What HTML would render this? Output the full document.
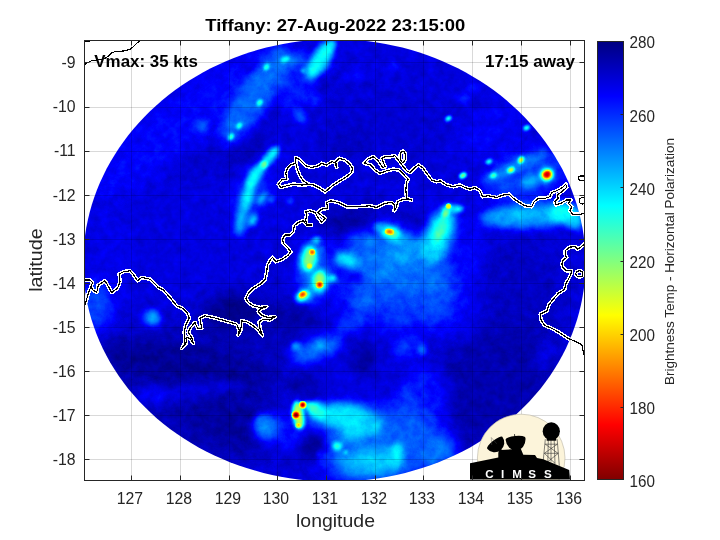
<!DOCTYPE html>
<html><head><meta charset="utf-8"><title>Tiffany</title><style>html,body{margin:0;padding:0;background:#fff}svg{display:block}text{font-family:"Liberation Sans",sans-serif;opacity:.999}</style></head><body>
<svg width="720" height="540" viewBox="0 0 720 540">
<defs>
<clipPath id="ax"><rect x="84.5" y="40.5" width="500.0" height="440.0"/></clipPath>
<clipPath id="disc"><polygon points="334.3,39.2 342.9,39.3 351.5,39.7 360.1,40.4 368.7,41.3 377.2,42.5 385.6,44.0 394.0,45.7 402.4,47.6 410.6,49.8 418.8,52.3 426.8,55.0 434.8,58.0 442.6,61.2 450.3,64.7 457.9,68.3 465.4,72.3 472.6,76.4 479.8,80.8 486.7,85.3 493.5,90.1 500.1,95.1 506.5,100.3 512.6,105.7 518.6,111.3 524.4,117.0 529.9,122.9 535.2,129.0 540.3,135.3 545.2,141.7 549.7,148.2 554.1,154.9 558.1,161.7 562.0,168.6 565.5,175.7 568.8,182.8 571.7,190.1 574.4,197.4 576.9,204.8 579.0,212.3 580.8,219.8 582.4,227.4 583.6,235.1 584.5,242.7 585.2,250.4 585.5,258.1 585.5,265.9 585.3,273.6 584.7,281.3 583.8,288.9 582.6,296.6 581.1,304.2 579.3,311.7 577.2,319.2 574.8,326.6 572.1,334.0 569.1,341.2 565.9,348.4 562.3,355.5 558.4,362.4 554.3,369.2 549.9,375.9 545.2,382.5 540.3,388.9 535.1,395.1 529.6,401.2 523.9,407.1 517.9,412.8 511.7,418.4 505.3,423.7 498.7,428.9 491.8,433.8 484.8,438.6 477.5,443.1 470.1,447.4 462.5,451.4 454.7,455.2 446.8,458.8 438.7,462.2 430.5,465.2 422.2,468.1 413.7,470.6 405.2,472.9 396.5,475.0 387.8,476.8 379.0,478.3 370.1,479.5 361.2,480.5 352.3,481.2 343.3,481.6 334.3,481.7 325.4,481.6 316.4,481.2 307.4,480.5 298.5,479.5 289.7,478.3 280.9,476.8 272.1,475.0 263.5,472.9 254.9,470.6 246.5,468.1 238.2,465.2 229.9,462.2 221.9,458.8 213.9,455.2 206.2,451.4 198.6,447.4 191.1,443.1 183.9,438.6 176.8,433.8 170.0,428.9 163.3,423.7 156.9,418.4 150.7,412.8 144.8,407.1 139.1,401.2 133.6,395.1 128.4,388.9 123.5,382.5 118.8,375.9 114.4,369.2 110.2,362.4 106.4,355.5 102.8,348.4 99.5,341.2 96.5,334.0 93.8,326.6 91.4,319.2 89.3,311.7 87.5,304.2 86.1,296.6 84.9,288.9 84.0,281.3 83.4,273.6 83.1,265.9 83.2,258.1 83.5,250.4 84.1,242.7 85.1,235.1 86.3,227.4 87.9,219.8 89.7,212.3 91.8,204.8 94.2,197.4 96.9,190.1 99.9,182.8 103.2,175.7 106.7,168.6 110.5,161.7 114.6,154.9 118.9,148.2 123.5,141.7 128.3,135.3 133.4,129.0 138.7,122.9 144.3,117.0 150.0,111.3 156.0,105.7 162.2,100.3 168.6,95.1 175.2,90.1 182.0,85.3 188.9,80.8 196.0,76.4 203.3,72.3 210.7,68.3 218.3,64.7 226.0,61.2 233.9,58.0 241.8,55.0 249.9,52.3 258.1,49.8 266.3,47.6 274.6,45.7 283.0,44.0 291.5,42.5 300.0,41.3 308.6,40.4 317.1,39.7 325.7,39.3"/></clipPath>
<linearGradient id="cb" x1="0" y1="0" x2="0" y2="1">
<stop offset="0" stop-color="#000080"/>
<stop offset="0.125" stop-color="#0000ff"/>
<stop offset="0.375" stop-color="#00ffff"/>
<stop offset="0.5" stop-color="#80ff80"/>
<stop offset="0.625" stop-color="#ffff00"/>
<stop offset="0.875" stop-color="#ff0000"/>
<stop offset="1" stop-color="#800000"/>
</linearGradient>
<filter id="b1" x="-50%" y="-50%" width="200%" height="200%"><feGaussianBlur stdDeviation="1"/></filter>
<filter id="b2" x="-50%" y="-50%" width="200%" height="200%"><feGaussianBlur stdDeviation="2"/></filter>
<filter id="b4" x="-50%" y="-50%" width="200%" height="200%"><feGaussianBlur stdDeviation="4"/></filter>
<filter id="b8" x="-50%" y="-50%" width="200%" height="200%"><feGaussianBlur stdDeviation="8"/></filter>
<filter id="b14" x="-50%" y="-50%" width="200%" height="200%"><feGaussianBlur stdDeviation="14"/></filter>
</defs>
<rect width="720" height="540" fill="#fff"/>
<g clip-path="url(#ax)"><g clip-path="url(#disc)">
<defs>
<filter id="f1_2" x="-80%" y="-80%" width="260%" height="260%" color-interpolation-filters="sRGB"><feGaussianBlur stdDeviation="1.2"/></filter>
<filter id="f1_3" x="-80%" y="-80%" width="260%" height="260%" color-interpolation-filters="sRGB"><feGaussianBlur stdDeviation="1.3"/></filter>
<filter id="f1_4" x="-80%" y="-80%" width="260%" height="260%" color-interpolation-filters="sRGB"><feGaussianBlur stdDeviation="1.4"/></filter>
<filter id="f1_5" x="-80%" y="-80%" width="260%" height="260%" color-interpolation-filters="sRGB"><feGaussianBlur stdDeviation="1.5"/></filter>
<filter id="f1_6" x="-80%" y="-80%" width="260%" height="260%" color-interpolation-filters="sRGB"><feGaussianBlur stdDeviation="1.6"/></filter>
<filter id="f1_8" x="-80%" y="-80%" width="260%" height="260%" color-interpolation-filters="sRGB"><feGaussianBlur stdDeviation="1.8"/></filter>
<filter id="f2" x="-80%" y="-80%" width="260%" height="260%" color-interpolation-filters="sRGB"><feGaussianBlur stdDeviation="2"/></filter>
<filter id="f2_2" x="-80%" y="-80%" width="260%" height="260%" color-interpolation-filters="sRGB"><feGaussianBlur stdDeviation="2.2"/></filter>
<filter id="f2_5" x="-80%" y="-80%" width="260%" height="260%" color-interpolation-filters="sRGB"><feGaussianBlur stdDeviation="2.5"/></filter>
<filter id="f2_8" x="-80%" y="-80%" width="260%" height="260%" color-interpolation-filters="sRGB"><feGaussianBlur stdDeviation="2.8"/></filter>
<filter id="f3" x="-80%" y="-80%" width="260%" height="260%" color-interpolation-filters="sRGB"><feGaussianBlur stdDeviation="3"/></filter>
<filter id="f3_5" x="-80%" y="-80%" width="260%" height="260%" color-interpolation-filters="sRGB"><feGaussianBlur stdDeviation="3.5"/></filter>
<filter id="f4" x="-80%" y="-80%" width="260%" height="260%" color-interpolation-filters="sRGB"><feGaussianBlur stdDeviation="4"/></filter>
<filter id="f5" x="-80%" y="-80%" width="260%" height="260%" color-interpolation-filters="sRGB"><feGaussianBlur stdDeviation="5"/></filter>
<filter id="f6" x="-80%" y="-80%" width="260%" height="260%" color-interpolation-filters="sRGB"><feGaussianBlur stdDeviation="6"/></filter>
<filter id="f7" x="-80%" y="-80%" width="260%" height="260%" color-interpolation-filters="sRGB"><feGaussianBlur stdDeviation="7"/></filter>
<filter id="f8" x="-80%" y="-80%" width="260%" height="260%" color-interpolation-filters="sRGB"><feGaussianBlur stdDeviation="8"/></filter>
<filter id="f10" x="-80%" y="-80%" width="260%" height="260%" color-interpolation-filters="sRGB"><feGaussianBlur stdDeviation="10"/></filter>
<filter id="f12" x="-80%" y="-80%" width="260%" height="260%" color-interpolation-filters="sRGB"><feGaussianBlur stdDeviation="12"/></filter>
<filter id="f14" x="-80%" y="-80%" width="260%" height="260%" color-interpolation-filters="sRGB"><feGaussianBlur stdDeviation="14"/></filter>
<filter id="jet" x="0" y="0" width="100%" height="100%" color-interpolation-filters="sRGB"><feTurbulence type="fractalNoise" baseFrequency="0.11 0.11" numOctaves="3" seed="7" result="n"/><feColorMatrix in="n" type="matrix" values="1 0 0 0 0 1 0 0 0 0 1 0 0 0 0 0 0 0 0 1" result="ng"/><feComposite in="SourceGraphic" in2="ng" operator="arithmetic" k1="0" k2="1" k3="0.07" k4="-0.035"/><feComponentTransfer><feFuncR type="table" tableValues="0 0 0 0 0.5 1 1 1 0.5"/><feFuncG type="table" tableValues="0 0 0.5 1 1 1 0.5 0 0"/><feFuncB type="table" tableValues="0.5 1 1 1 0.5 0 0 0 0"/></feComponentTransfer></filter>
</defs>
<g filter="url(#jet)">
<rect x="70" y="30" width="530" height="460" fill="#181818"/>
<ellipse cx="185" cy="120" rx="125.0" ry="28.0" transform="rotate(-38 185 120)" fill="#242424" opacity="0.75" filter="url(#f12)"/>
<ellipse cx="110" cy="260" rx="22.0" ry="60.0" fill="#202020" opacity="0.5" filter="url(#f12)"/>
<ellipse cx="190" cy="395" rx="95.0" ry="60.0" transform="rotate(25 190 395)" fill="#0d0d0d" opacity="0.85" filter="url(#f14)"/>
<ellipse cx="250" cy="335" rx="60.0" ry="25.0" transform="rotate(10 250 335)" fill="#0d0d0d" opacity="0.7" filter="url(#f10)"/>
<ellipse cx="185" cy="365" rx="90.0" ry="20.0" transform="rotate(8 185 365)" fill="#050505" opacity="0.85" filter="url(#f8)"/>
<ellipse cx="235" cy="425" rx="50.0" ry="24.0" transform="rotate(20 235 425)" fill="#070707" opacity="0.8" filter="url(#f8)"/>
<ellipse cx="185" cy="392" rx="60.0" ry="8.0" transform="rotate(-8 185 392)" fill="#1d1d1d" opacity="0.75" filter="url(#f5)"/>
<ellipse cx="520" cy="290" rx="48.0" ry="52.0" fill="#101010" opacity="0.8" filter="url(#f14)"/>
<ellipse cx="385" cy="125" rx="70.0" ry="40.0" fill="#131313" opacity="0.5" filter="url(#f14)"/>
<ellipse cx="490" cy="385" rx="75.0" ry="55.0" transform="rotate(-35 490 385)" fill="#0a0a0a" opacity="0.85" filter="url(#f12)"/>
<ellipse cx="395" cy="280" rx="65.0" ry="48.0" fill="#333333" opacity="0.6" filter="url(#f14)"/>
<ellipse cx="450" cy="300" rx="30.0" ry="40.0" fill="#2a2a2a" opacity="0.5" filter="url(#f12)"/>
<ellipse cx="370" cy="445" rx="52.0" ry="38.0" fill="#464646" opacity="0.75" filter="url(#f10)"/>
<ellipse cx="425" cy="440" rx="26.0" ry="32.0" fill="#404040" opacity="0.6" filter="url(#f8)"/>
<ellipse cx="300" cy="435" rx="40.0" ry="22.0" fill="#2d2d2d" opacity="0.6" filter="url(#f10)"/>
<ellipse cx="525" cy="175" rx="42.0" ry="24.0" transform="rotate(-20 525 175)" fill="#373737" opacity="0.75" filter="url(#f8)"/>
<ellipse cx="490" cy="130" rx="40.0" ry="20.0" transform="rotate(-35 490 130)" fill="#262626" opacity="0.5" filter="url(#f10)"/>
<ellipse cx="535" cy="214" rx="48.0" ry="10.0" transform="rotate(-5 535 214)" fill="#424242" opacity="0.8" filter="url(#f6)"/>
<ellipse cx="345" cy="221" rx="26.0" ry="13.0" fill="#080808" opacity="0.85" filter="url(#f7)"/>
<ellipse cx="372" cy="205" rx="14.0" ry="8.0" fill="#0b0b0b" opacity="0.6" filter="url(#f5)"/>
<ellipse cx="290" cy="316" rx="30.0" ry="13.0" transform="rotate(10 290 316)" fill="#080808" opacity="0.85" filter="url(#f7)"/>
<ellipse cx="236" cy="307" rx="24.0" ry="14.0" fill="#0a0a0a" opacity="0.8" filter="url(#f7)"/>
<ellipse cx="304" cy="384" rx="18.0" ry="10.0" fill="#080808" opacity="0.8" filter="url(#f6)"/>
<ellipse cx="263" cy="375" rx="18.0" ry="12.0" fill="#0c0c0c" opacity="0.7" filter="url(#f6)"/>
<ellipse cx="272" cy="110" rx="55.0" ry="7.0" transform="rotate(-57 272 110)" fill="#101010" opacity="0.6" filter="url(#f5)"/>
<ellipse cx="205" cy="160" rx="30.0" ry="12.0" transform="rotate(-20 205 160)" fill="#111111" opacity="0.6" filter="url(#f7)"/>
<ellipse cx="345" cy="143" rx="25.0" ry="12.0" fill="#0e0e0e" opacity="0.6" filter="url(#f7)"/>
<ellipse cx="277" cy="280" rx="10.0" ry="16.0" fill="#131313" opacity="0.5" filter="url(#f6)"/>
<ellipse cx="255" cy="95" rx="58.0" ry="17.0" transform="rotate(-57 255 95)" fill="#3e3e3e" opacity="0.88" filter="url(#f6)"/>
<ellipse cx="302" cy="84" rx="34.0" ry="13.0" transform="rotate(-52 302 84)" fill="#313131" opacity="0.7" filter="url(#f7)"/>
<ellipse cx="248" cy="152" rx="30.0" ry="9.0" transform="rotate(-35 248 152)" fill="#0d0d0d" opacity="0.7" filter="url(#f6)"/>
<ellipse cx="320" cy="60" rx="22.0" ry="9.0" transform="rotate(-57 320 60)" fill="#646464" opacity="0.95" filter="url(#f3)"/>
<ellipse cx="330" cy="47" rx="8.0" ry="4.0" transform="rotate(-57 330 47)" fill="#666666" opacity="0.8" filter="url(#f2)"/>
<ellipse cx="290" cy="62" rx="16.0" ry="8.0" transform="rotate(-20 290 62)" fill="#424242" opacity="0.85" filter="url(#f4)"/>
<ellipse cx="285" cy="59.5" rx="4.5" ry="3.0" transform="rotate(-20 285 59.5)" fill="#6a6a6a" opacity="0.9" filter="url(#f1_8)"/>
<ellipse cx="303.3" cy="70.8" rx="2.5" ry="2.5" fill="#5e5e5e" opacity="0.85" filter="url(#f1_5)"/>
<ellipse cx="281" cy="80" rx="6.0" ry="12.0" transform="rotate(-57 281 80)" fill="#3c3c3c" opacity="0.7" filter="url(#f3)"/>
<ellipse cx="249" cy="67" rx="9.0" ry="5.0" transform="rotate(-30 249 67)" fill="#111111" opacity="0.7" filter="url(#f3)"/>
<ellipse cx="326" cy="86" rx="14.0" ry="7.0" transform="rotate(-20 326 86)" fill="#111111" opacity="0.7" filter="url(#f4)"/>
<ellipse cx="300" cy="116" rx="5.0" ry="8.0" transform="rotate(-30 300 116)" fill="#444444" opacity="0.8" filter="url(#f3)"/>
<ellipse cx="315" cy="99" rx="7.0" ry="4.0" transform="rotate(-40 315 99)" fill="#3c3c3c" opacity="0.7" filter="url(#f3)"/>
<ellipse cx="201" cy="127" rx="7.0" ry="6.0" transform="rotate(-30 201 127)" fill="#3c3c3c" opacity="0.85" filter="url(#f3)"/>
<ellipse cx="391" cy="67" rx="7.0" ry="3.0" fill="#373737" opacity="0.7" filter="url(#f3)"/>
<ellipse cx="355" cy="75" rx="20.0" ry="6.0" transform="rotate(-20 355 75)" fill="#262626" opacity="0.5" filter="url(#f5)"/>
<ellipse cx="252" cy="192" rx="28.0" ry="17.0" transform="rotate(-68 252 192)" fill="#333333" opacity="0.6" filter="url(#f7)"/>
<ellipse cx="270" cy="157" rx="14.0" ry="5.0" transform="rotate(-50 270 157)" fill="#666666" opacity="0.95" filter="url(#f2_8)"/>
<ellipse cx="263.5" cy="165" rx="4.0" ry="3.0" transform="rotate(-50 263.5 165)" fill="#909090" opacity="0.85" filter="url(#f1_8)"/>
<ellipse cx="255" cy="176" rx="14.0" ry="6.0" transform="rotate(-58 255 176)" fill="#666666" opacity="0.95" filter="url(#f2_8)"/>
<ellipse cx="247" cy="198" rx="16.0" ry="6.0" transform="rotate(-72 247 198)" fill="#626262" opacity="0.95" filter="url(#f3)"/>
<ellipse cx="241" cy="222" rx="14.0" ry="6.0" transform="rotate(-80 241 222)" fill="#555555" opacity="0.9" filter="url(#f3_5)"/>
<ellipse cx="262" cy="198" rx="8.0" ry="4.0" transform="rotate(-50 262 198)" fill="#555555" opacity="0.85" filter="url(#f2_5)"/>
<ellipse cx="253" cy="220" rx="7.0" ry="4.0" transform="rotate(-60 253 220)" fill="#626262" opacity="0.85" filter="url(#f2_5)"/>
<ellipse cx="272" cy="199" rx="5.0" ry="3.0" transform="rotate(-30 272 199)" fill="#484848" opacity="0.8" filter="url(#f2_5)"/>
<ellipse cx="290" cy="201" rx="3.5" ry="3.0" fill="#404040" opacity="0.8" filter="url(#f2)"/>
<ellipse cx="313" cy="272" rx="15.0" ry="32.0" transform="rotate(8 313 272)" fill="#3c3c3c" opacity="0.8" filter="url(#f6)"/>
<ellipse cx="308.5" cy="259" rx="9.0" ry="15.0" transform="rotate(8 308.5 259)" fill="#666666" opacity="0.92" filter="url(#f3)"/>
<ellipse cx="309.5" cy="259" rx="5.0" ry="11.0" transform="rotate(8 309.5 259)" fill="#888888" opacity="0.85" filter="url(#f2_2)"/>
<ellipse cx="319.5" cy="281" rx="9.0" ry="12.0" transform="rotate(8 319.5 281)" fill="#6a6a6a" opacity="0.92" filter="url(#f3)"/>
<ellipse cx="319.5" cy="280.5" rx="5.0" ry="8.5" transform="rotate(8 319.5 280.5)" fill="#8c8c8c" opacity="0.85" filter="url(#f2_2)"/>
<ellipse cx="303.5" cy="296" rx="9.0" ry="6.0" transform="rotate(-30 303.5 296)" fill="#6a6a6a" opacity="0.9" filter="url(#f2_5)"/>
<ellipse cx="303.3" cy="295.5" rx="5.5" ry="3.5" transform="rotate(-30 303.3 295.5)" fill="#909090" opacity="0.85" filter="url(#f1_8)"/>
<ellipse cx="316" cy="240.5" rx="5.0" ry="3.5" transform="rotate(-20 316 240.5)" fill="#626262" opacity="0.85" filter="url(#f2_2)"/>
<ellipse cx="321.7" cy="250" rx="3.0" ry="3.0" fill="#444444" opacity="0.8" filter="url(#f2)"/>
<ellipse cx="332.8" cy="278.5" rx="5.0" ry="3.5" fill="#7b7b7b" opacity="0.85" filter="url(#f2)"/>
<ellipse cx="337" cy="297" rx="5.0" ry="16.0" fill="#222222" opacity="0.7" filter="url(#f4)"/>
<ellipse cx="395" cy="268" rx="50.0" ry="32.0" transform="rotate(10 395 268)" fill="#404040" opacity="0.85" filter="url(#f10)"/>
<ellipse cx="380" cy="298" rx="32.0" ry="16.0" fill="#353535" opacity="0.45" filter="url(#f8)"/>
<ellipse cx="346.7" cy="259.7" rx="13.0" ry="7.0" transform="rotate(12 346.7 259.7)" fill="#606060" opacity="0.9" filter="url(#f3_5)"/>
<ellipse cx="360" cy="240" rx="14.0" ry="6.0" transform="rotate(10 360 240)" fill="#404040" opacity="0.7" filter="url(#f4)"/>
<ellipse cx="372" cy="243" rx="6.0" ry="5.0" fill="#484848" opacity="0.7" filter="url(#f3)"/>
<ellipse cx="395" cy="236" rx="20.0" ry="8.0" transform="rotate(28 395 236)" fill="#555555" opacity="0.9" filter="url(#f4)"/>
<ellipse cx="390.5" cy="232.5" rx="9.0" ry="5.5" transform="rotate(15 390.5 232.5)" fill="#7b7b7b" opacity="0.88" filter="url(#f2_5)"/>
<ellipse cx="400" cy="256" rx="14.0" ry="8.0" fill="#4f4f4f" opacity="0.8" filter="url(#f4)"/>
<ellipse cx="384" cy="272" rx="8.0" ry="6.0" fill="#484848" opacity="0.7" filter="url(#f3)"/>
<ellipse cx="351" cy="277" rx="13.0" ry="5.5" transform="rotate(12 351 277)" fill="#1a1a1a" opacity="0.85" filter="url(#f3_5)"/>
<ellipse cx="331" cy="246" rx="5.0" ry="8.0" fill="#222222" opacity="0.7" filter="url(#f3)"/>
<ellipse cx="439" cy="236" rx="15.0" ry="30.0" transform="rotate(22 439 236)" fill="#5e5e5e" opacity="0.9" filter="url(#f5)"/>
<ellipse cx="440" cy="231" rx="5.5" ry="15.0" transform="rotate(22 440 231)" fill="#7b7b7b" opacity="0.8" filter="url(#f3)"/>
<ellipse cx="445.7" cy="213" rx="3.0" ry="5.0" transform="rotate(25 445.7 213)" fill="#8c8c8c" opacity="0.85" filter="url(#f1_8)"/>
<ellipse cx="458.5" cy="209" rx="5.0" ry="3.0" transform="rotate(-10 458.5 209)" fill="#848484" opacity="0.85" filter="url(#f2)"/>
<ellipse cx="412" cy="219" rx="14.0" ry="8.0" transform="rotate(25 412 219)" fill="#0f0f0f" opacity="0.8" filter="url(#f3_5)"/>
<ellipse cx="380" cy="227" rx="6.0" ry="5.0" fill="#515151" opacity="0.8" filter="url(#f2_5)"/>
<ellipse cx="449" cy="209" rx="7.0" ry="4.0" transform="rotate(-10 449 209)" fill="#737373" opacity="0.8" filter="url(#f2_5)"/>
<ellipse cx="421" cy="248" rx="10.0" ry="7.0" fill="#555555" opacity="0.7" filter="url(#f4)"/>
<ellipse cx="438" cy="292" rx="14.0" ry="28.0" fill="#3c3c3c" opacity="0.8" filter="url(#f8)"/>
<ellipse cx="470" cy="250" rx="14.0" ry="30.0" fill="#262626" opacity="0.6" filter="url(#f8)"/>
<ellipse cx="364" cy="301" rx="12.0" ry="8.0" fill="#424242" opacity="0.7" filter="url(#f5)"/>
<ellipse cx="316" cy="349" rx="28.0" ry="11.0" transform="rotate(-20 316 349)" fill="#404040" opacity="0.85" filter="url(#f5)"/>
<ellipse cx="352" cy="322" rx="18.0" ry="8.0" transform="rotate(-28 352 322)" fill="#373737" opacity="0.75" filter="url(#f5)"/>
<ellipse cx="296" cy="346" rx="5.0" ry="4.0" fill="#555555" opacity="0.8" filter="url(#f2_5)"/>
<ellipse cx="320" cy="345" rx="6.0" ry="4.0" transform="rotate(-20 320 345)" fill="#515151" opacity="0.8" filter="url(#f2_5)"/>
<ellipse cx="364" cy="358" rx="13.0" ry="18.0" fill="#070707" opacity="0.8" filter="url(#f5)"/>
<ellipse cx="428" cy="312" rx="18.0" ry="10.0" transform="rotate(-10 428 312)" fill="#333333" opacity="0.7" filter="url(#f5)"/>
<ellipse cx="402" cy="350" rx="8.0" ry="10.0" fill="#313131" opacity="0.7" filter="url(#f4)"/>
<ellipse cx="428" cy="392" rx="22.0" ry="28.0" transform="rotate(-20 428 392)" fill="#313131" opacity="0.6" filter="url(#f8)"/>
<ellipse cx="422" cy="350" rx="5.0" ry="5.0" fill="#4c4c4c" opacity="0.85" filter="url(#f2_5)"/>
<ellipse cx="405" cy="435" rx="22.0" ry="40.0" fill="#373737" opacity="0.7" filter="url(#f8)"/>
<ellipse cx="400" cy="318" rx="12.0" ry="10.0" fill="#353535" opacity="0.7" filter="url(#f5)"/>
<ellipse cx="410" cy="345" rx="14.0" ry="10.0" transform="rotate(-20 410 345)" fill="#2f2f2f" opacity="0.7" filter="url(#f5)"/>
<ellipse cx="408" cy="397" rx="5.0" ry="14.0" transform="rotate(-15 408 397)" fill="#353535" opacity="0.7" filter="url(#f4)"/>
<ellipse cx="545" cy="355" rx="8.0" ry="14.0" transform="rotate(20 545 355)" fill="#222222" opacity="0.7" filter="url(#f5)"/>
<ellipse cx="338" cy="415" rx="26.0" ry="12.0" fill="#5e5e5e" opacity="0.92" filter="url(#f5)"/>
<ellipse cx="352" cy="432" rx="14.0" ry="10.0" fill="#555555" opacity="0.8" filter="url(#f4)"/>
<ellipse cx="268" cy="428" rx="14.0" ry="13.0" transform="rotate(-20 268 428)" fill="#424242" opacity="0.85" filter="url(#f5)"/>
<ellipse cx="337" cy="446" rx="5.0" ry="4.0" fill="#777777" opacity="0.9" filter="url(#f2)"/>
<ellipse cx="396" cy="456" rx="6.0" ry="14.0" transform="rotate(10 396 456)" fill="#6a6a6a" opacity="0.88" filter="url(#f3)"/>
<ellipse cx="375" cy="462" rx="24.0" ry="14.0" fill="#595959" opacity="0.8" filter="url(#f6)"/>
<ellipse cx="350" cy="465" rx="14.0" ry="10.0" fill="#515151" opacity="0.7" filter="url(#f5)"/>
<ellipse cx="262" cy="424" rx="7.0" ry="10.0" fill="#484848" opacity="0.8" filter="url(#f3_5)"/>
<ellipse cx="296" cy="460" rx="18.0" ry="9.0" fill="#0f0f0f" opacity="0.7" filter="url(#f5)"/>
<ellipse cx="298.5" cy="415" rx="5.5" ry="14.0" transform="rotate(-8 298.5 415)" fill="#9d9d9d" opacity="0.9" filter="url(#f2_2)"/>
<ellipse cx="309" cy="406" rx="8.0" ry="3.5" transform="rotate(10 309 406)" fill="#7b7b7b" opacity="0.85" filter="url(#f2)"/>
<ellipse cx="316" cy="410" rx="9.0" ry="8.0" transform="rotate(10 316 410)" fill="#737373" opacity="0.85" filter="url(#f3)"/>
<ellipse cx="358" cy="421" rx="26.0" ry="13.0" transform="rotate(15 358 421)" fill="#5b5b5b" opacity="0.85" filter="url(#f5)"/>
<ellipse cx="318.3" cy="453.3" rx="2.2" ry="2.2" fill="#5e5e5e" opacity="0.85" filter="url(#f1_4)"/>
<ellipse cx="345.8" cy="452.5" rx="2.2" ry="2.2" fill="#626262" opacity="0.85" filter="url(#f1_4)"/>
<ellipse cx="440" cy="452" rx="18.0" ry="14.0" transform="rotate(-30 440 452)" fill="#464646" opacity="0.7" filter="url(#f6)"/>
<ellipse cx="313" cy="445" rx="13.0" ry="12.0" transform="rotate(-25 313 445)" fill="#020202" opacity="0.9" filter="url(#f4)"/>
<ellipse cx="97" cy="306" rx="14.0" ry="24.0" fill="#3c3c3c" opacity="0.75" filter="url(#f7)"/>
<ellipse cx="152" cy="318" rx="8.0" ry="8.0" fill="#555555" opacity="0.9" filter="url(#f3_5)"/>
<ellipse cx="152" cy="394" rx="16.0" ry="8.0" transform="rotate(20 152 394)" fill="#242424" opacity="0.7" filter="url(#f5)"/>
<ellipse cx="232" cy="312" rx="26.0" ry="16.0" fill="#020202" opacity="0.85" filter="url(#f7)"/>
<ellipse cx="463" cy="98" rx="6.0" ry="5.0" fill="#393939" opacity="0.7" filter="url(#f3)"/>
<ellipse cx="473" cy="88" rx="5.0" ry="4.0" fill="#373737" opacity="0.7" filter="url(#f3)"/>
<ellipse cx="530" cy="216" rx="52.0" ry="11.0" transform="rotate(-3 530 216)" fill="#4c4c4c" opacity="0.9" filter="url(#f5)"/>
<ellipse cx="562" cy="213" rx="14.0" ry="9.0" fill="#686868" opacity="0.9" filter="url(#f3_5)"/>
<ellipse cx="575" cy="222" rx="8.0" ry="8.0" fill="#5e5e5e" opacity="0.8" filter="url(#f3)"/>
<ellipse cx="520" cy="214" rx="8.0" ry="5.0" fill="#595959" opacity="0.7" filter="url(#f3)"/>
<ellipse cx="530" cy="182" rx="9.0" ry="6.0" fill="#595959" opacity="0.8" filter="url(#f3)"/>
<ellipse cx="512" cy="168" rx="24.0" ry="5.0" transform="rotate(-28 512 168)" fill="#484848" opacity="0.8" filter="url(#f3)"/>
<ellipse cx="495" cy="176" rx="16.0" ry="4.0" transform="rotate(-28 495 176)" fill="#424242" opacity="0.7" filter="url(#f3)"/>
<ellipse cx="535" cy="160" rx="16.0" ry="5.0" transform="rotate(-28 535 160)" fill="#404040" opacity="0.7" filter="url(#f3)"/>
<ellipse cx="266.4" cy="67.2" rx="3.4" ry="2.3" transform="rotate(-57 266.4 67.2)" fill="#757575" filter="url(#f1_4)"/>
<ellipse cx="259.6" cy="102.6" rx="3.4" ry="2.3" transform="rotate(-57 259.6 102.6)" fill="#757575" filter="url(#f1_4)"/>
<ellipse cx="239.2" cy="125.8" rx="3.4" ry="2.3" transform="rotate(-57 239.2 125.8)" fill="#757575" filter="url(#f1_4)"/>
<ellipse cx="231" cy="136.7" rx="3.4" ry="2.3" transform="rotate(-57 231 136.7)" fill="#757575" filter="url(#f1_4)"/>
<ellipse cx="448.5" cy="118.4" rx="3.3" ry="2.2" transform="rotate(-28 448.5 118.4)" fill="#757575" filter="url(#f1_4)"/>
<ellipse cx="526.6" cy="127.7" rx="3.3" ry="2.2" transform="rotate(-28 526.6 127.7)" fill="#757575" filter="url(#f1_4)"/>
<ellipse cx="488.9" cy="161.6" rx="3.3" ry="2.2" transform="rotate(-28 488.9 161.6)" fill="#757575" filter="url(#f1_4)"/>
<ellipse cx="462.9" cy="175.6" rx="3.8" ry="2.5" transform="rotate(-28 462.9 175.6)" fill="#909090" filter="url(#f1_6)"/>
<ellipse cx="493.3" cy="175.6" rx="3.6" ry="2.4" transform="rotate(-28 493.3 175.6)" fill="#7b7b7b" filter="url(#f1_6)"/>
<ellipse cx="521" cy="160" rx="3.5" ry="2.2" transform="rotate(-60 521 160)" fill="#aeaeae" filter="url(#f1_6)"/>
<ellipse cx="511" cy="170" rx="3.5" ry="2.2" transform="rotate(-28 511 170)" fill="#aeaeae" filter="url(#f1_6)"/>
<ellipse cx="546.5" cy="175" rx="7.7" ry="7.0" transform="rotate(-30 546.5 175)" fill="#737373" opacity="0.9" filter="url(#f2_5)"/>
<ellipse cx="547" cy="174.8" rx="5.7" ry="5.2" transform="rotate(-30 547 174.8)" fill="#a2a2a2" opacity="0.9" filter="url(#f1_8)"/>
<ellipse cx="547" cy="174.5" rx="3.7" ry="3.2" transform="rotate(-30 547 174.5)" fill="#eeeeee" filter="url(#f1_2)"/>
<ellipse cx="312.2" cy="252.3" rx="3.0" ry="3.0" fill="#9d9d9d" opacity="0.85" filter="url(#f2_0)"/>
<ellipse cx="312.2" cy="252.3" rx="2.0" ry="2.0" fill="#d4d4d4" filter="url(#f1_3)"/>
<ellipse cx="309.5" cy="266" rx="2.7" ry="2.7" fill="#959595" opacity="0.85" filter="url(#f2_0)"/>
<ellipse cx="309.5" cy="266" rx="1.8" ry="1.8" fill="#aeaeae" filter="url(#f1_3)"/>
<ellipse cx="319.6" cy="284.7" rx="3.8" ry="3.4" transform="rotate(-20 319.6 284.7)" fill="#a2a2a2" opacity="0.85" filter="url(#f2_0)"/>
<ellipse cx="319.6" cy="284.7" rx="2.5" ry="2.3" transform="rotate(-20 319.6 284.7)" fill="#eeeeee" filter="url(#f1_3)"/>
<ellipse cx="302.7" cy="294.5" rx="4.2" ry="3.0" transform="rotate(-30 302.7 294.5)" fill="#9d9d9d" opacity="0.85" filter="url(#f2_0)"/>
<ellipse cx="302.7" cy="294.5" rx="2.8" ry="2.0" transform="rotate(-30 302.7 294.5)" fill="#d9d9d9" filter="url(#f1_3)"/>
<ellipse cx="389.4" cy="231.8" rx="4.8" ry="3.0" transform="rotate(10 389.4 231.8)" fill="#9d9d9d" opacity="0.85" filter="url(#f2_0)"/>
<ellipse cx="389.4" cy="231.8" rx="3.2" ry="2.0" transform="rotate(10 389.4 231.8)" fill="#c8c8c8" filter="url(#f1_3)"/>
<ellipse cx="448.5" cy="206.2" rx="2.7" ry="2.7" fill="#909090" opacity="0.85" filter="url(#f2_0)"/>
<ellipse cx="448.5" cy="206.2" rx="1.8" ry="1.8" fill="#b7b7b7" filter="url(#f1_3)"/>
<ellipse cx="302.7" cy="404.8" rx="3.9" ry="3.9" fill="#8a8a8a" opacity="0.85" filter="url(#f2_0)"/>
<ellipse cx="302.7" cy="404.8" rx="2.6" ry="2.6" fill="#ffffff" filter="url(#f1_3)"/>
<ellipse cx="296" cy="415" rx="4.5" ry="4.5" fill="#8a8a8a" opacity="0.85" filter="url(#f2_0)"/>
<ellipse cx="296" cy="415" rx="3.0" ry="3.0" fill="#ffffff" filter="url(#f1_3)"/>
<ellipse cx="298.6" cy="425" rx="3.3" ry="3.3" fill="#757575" opacity="0.85" filter="url(#f2_0)"/>
<ellipse cx="298.6" cy="425" rx="2.2" ry="2.2" fill="#b5b5b5" filter="url(#f1_3)"/>
</g>
</g>
<path d="M84.5 280.0 L90.0 280.0 L92.5 282.5 L91.0 286.5 L93.0 290.0 L96.7 292.5 L98.3 285.0 L105.0 280.8 L107.5 285.0 L111.7 292.5 L117.5 288.3 L120.0 281.7 L119.2 274.2 L123.3 271.7 L130.0 270.8 L133.3 274.2 L137.5 280.8 L141.7 277.5 L150.0 279.2 L154.2 283.3 L158.3 287.5 L163.3 290.0 L170.0 297.5 L176.7 305.8 L182.5 308.3 L187.5 313.3 L189.2 318.3 L185.8 325.0 L184.2 331.7 L185.0 338.3 L184.2 345.0 L181.7 348.3 L185.8 344.2 L186.7 337.5 L190.0 338.3 L193.3 343.3 L191.7 337.5 L188.3 332.5 L190.0 328.3 L195.0 322.5 L197.5 328.3 L201.7 328.3 L200.0 318.3 L205.0 315.8 L213.3 317.5 L225.0 320.8 L236.7 324.2 L239.2 330.0 L238.3 335.0 L240.8 330.0 L241.7 320.8 L246.7 321.7 L253.3 325.8 L258.3 330.0 L262.5 335.8 L260.0 328.3 L259.2 321.7 L263.3 319.2 L270.0 320.0 L275.0 316.7 L268.3 317.5 L262.5 315.8 L258.3 311.7 L260.0 309.2 L266.7 306.7 L260.0 307.5 L253.3 305.8 L248.3 302.5 L245.8 298.3 L248.3 293.3 L253.3 288.3 L260.0 284.2 L265.0 280.0 L266.7 271.7 L267.5 265.0 L270.8 259.2 L272.5 257.5 L275.8 261.7 L282.5 259.2 L288.3 255.0 L290.8 251.7 L287.5 247.5 L283.3 243.3 L282.5 239.2 L285.0 235.0 L290.0 235.0 L293.3 231.7 L294.2 225.8 L298.3 222.5 L303.3 220.8 L306.7 225.0 L305.8 220.0 L306.7 215.0 L305.8 211.7 L310.0 210.8 L315.0 212.5 L317.5 216.7 L321.7 222.5 L325.0 218.3 L320.0 214.2 L317.5 212.5 L321.7 209.2 L327.5 208.3 L326.7 202.5 L330.8 200.8 L338.3 202.5 L346.7 206.7 L356.7 206.7 L370.0 205.8 L376.7 207.5 L385.0 203.3 L391.7 202.5 L395.0 205.8 L394.2 210.8 L396.7 206.7 L397.5 201.7 L403.3 199.2 L406.7 199.2 L411.7 200.0 L406.7 198.3 L405.8 190.0 L406.7 181.7 L408.3 179.2 L404.2 175.0 L399.2 170.0 L393.3 169.2 L386.7 170.8 L380.0 173.3 L375.0 170.0 L370.8 165.0 L364.2 163.3 L367.5 159.2 L373.3 156.7 L378.3 160.8 L382.5 167.5 L385.0 166.7 L381.7 158.3 L385.0 156.7 L390.0 156.7 L395.0 155.8 L398.3 160.0 L403.3 166.7 L406.7 170.8 L410.0 172.5 L414.2 168.3 L418.3 165.0 L422.5 167.5 L426.7 173.3 L431.7 180.0 L436.7 181.7 L440.0 180.8 L446.7 185.0 L453.3 186.7 L460.0 185.0 L465.0 187.5 L470.0 189.2 L475.0 187.5 L480.0 190.8 L482.5 196.7 L488.3 195.8 L496.7 197.5 L503.3 195.0 L509.2 194.2 L513.3 198.3 L518.3 201.7 L525.0 205.8 L531.7 206.7 L534.2 201.7 L538.3 198.3 L545.0 198.3 L550.0 196.7 L551.7 192.5 L556.7 190.8 L562.5 187.5 L565.8 184.2 L566.7 187.5 L561.7 191.7 L557.5 195.0 L558.3 198.3 L555.0 201.7 L555.8 205.0 L560.8 203.3 L566.7 200.0 L570.8 200.0 L568.3 203.3 L571.7 206.7 L570.0 210.8 L572.5 214.2 L580.0 214.2 L585.0 213.3 M91.0 286.5 L88.3 293.3 L85.8 302.5 L84.5 306.0 M306.7 225.0 L311.7 225.0 M295.8 157.5 L300.0 160.0 L305.8 165.8 L311.7 167.5 L318.3 165.8 L321.7 163.3 L326.7 165.0 L331.7 161.7 L335.0 162.5 L336.7 167.5 L335.8 161.7 L339.2 158.3 L345.0 160.0 L350.0 164.2 L352.5 168.3 L351.7 172.5 L346.7 176.7 L340.0 180.8 L333.3 185.0 L328.3 189.2 L325.0 191.7 L320.0 188.3 L313.3 185.0 L308.3 184.2 L303.3 180.8 L300.0 175.8 L297.5 170.0 L295.8 163.3 L295.8 157.5Z M295.8 163.3 L290.8 165.0 L287.5 168.3 L285.8 173.3 L286.7 179.2 L281.7 180.0 L278.3 184.2 L280.8 187.5 L286.7 185.8 L293.3 184.2 L301.7 185.0 L308.3 184.5 M584.7 243.8 L580.6 247.2 L577.8 249.3 L575.0 246.5 L569.4 247.2 L565.3 250.7 L565.3 254.9 L566.7 257.6 L563.2 259.7 L561.8 263.9 L563.2 268.1 L566.7 270.8 L571.5 270.8 L570.8 274.3 L568.8 278.5 L566.0 283.3 L564.6 289.5 L558.3 293.3 L553.5 298.9 L548.6 305.1 L547.2 310.7 L540.3 314.2 L541.0 319.7 L544.4 325.3 L552.8 328.8 L561.1 333.6 L568.1 338.5 L575.0 341.3 L581.9 344.7 L583.3 351.7 L584.5 356.0 M84.6 64.8 L87.5 62.7 L90.8 61.0 L100.0 59.5 L105.0 58.3 L108.3 56.0 L111.7 52.7 L115.8 51.4 L123.3 51.0 L130.0 49.3 L133.3 46.8 L137.5 42.7 L140.0 40.6 M400.2 156.7a2.6 5.6 0 1 0 5.2 0a2.6 5.6 0 1 0 -5.2 0Z M575.8 273.9a3.6 3.0 0 1 0 7.2 0a3.6 3.0 0 1 0 -7.2 0Z M578.4 178.3a3.6 2.4 0 1 0 7.2 0a3.6 2.4 0 1 0 -7.2 0Z M579.1 200.8a3.4 3.2 0 1 0 6.8 0a3.4 3.2 0 1 0 -6.8 0Z" fill="none" stroke="#fff" stroke-width="3.8" stroke-linejoin="round" stroke-linecap="round" shape-rendering="crispEdges" clip-path="url(#disc)"/>
<path d="M84.5 280.0 L90.0 280.0 L92.5 282.5 L91.0 286.5 L93.0 290.0 L96.7 292.5 L98.3 285.0 L105.0 280.8 L107.5 285.0 L111.7 292.5 L117.5 288.3 L120.0 281.7 L119.2 274.2 L123.3 271.7 L130.0 270.8 L133.3 274.2 L137.5 280.8 L141.7 277.5 L150.0 279.2 L154.2 283.3 L158.3 287.5 L163.3 290.0 L170.0 297.5 L176.7 305.8 L182.5 308.3 L187.5 313.3 L189.2 318.3 L185.8 325.0 L184.2 331.7 L185.0 338.3 L184.2 345.0 L181.7 348.3 L185.8 344.2 L186.7 337.5 L190.0 338.3 L193.3 343.3 L191.7 337.5 L188.3 332.5 L190.0 328.3 L195.0 322.5 L197.5 328.3 L201.7 328.3 L200.0 318.3 L205.0 315.8 L213.3 317.5 L225.0 320.8 L236.7 324.2 L239.2 330.0 L238.3 335.0 L240.8 330.0 L241.7 320.8 L246.7 321.7 L253.3 325.8 L258.3 330.0 L262.5 335.8 L260.0 328.3 L259.2 321.7 L263.3 319.2 L270.0 320.0 L275.0 316.7 L268.3 317.5 L262.5 315.8 L258.3 311.7 L260.0 309.2 L266.7 306.7 L260.0 307.5 L253.3 305.8 L248.3 302.5 L245.8 298.3 L248.3 293.3 L253.3 288.3 L260.0 284.2 L265.0 280.0 L266.7 271.7 L267.5 265.0 L270.8 259.2 L272.5 257.5 L275.8 261.7 L282.5 259.2 L288.3 255.0 L290.8 251.7 L287.5 247.5 L283.3 243.3 L282.5 239.2 L285.0 235.0 L290.0 235.0 L293.3 231.7 L294.2 225.8 L298.3 222.5 L303.3 220.8 L306.7 225.0 L305.8 220.0 L306.7 215.0 L305.8 211.7 L310.0 210.8 L315.0 212.5 L317.5 216.7 L321.7 222.5 L325.0 218.3 L320.0 214.2 L317.5 212.5 L321.7 209.2 L327.5 208.3 L326.7 202.5 L330.8 200.8 L338.3 202.5 L346.7 206.7 L356.7 206.7 L370.0 205.8 L376.7 207.5 L385.0 203.3 L391.7 202.5 L395.0 205.8 L394.2 210.8 L396.7 206.7 L397.5 201.7 L403.3 199.2 L406.7 199.2 L411.7 200.0 L406.7 198.3 L405.8 190.0 L406.7 181.7 L408.3 179.2 L404.2 175.0 L399.2 170.0 L393.3 169.2 L386.7 170.8 L380.0 173.3 L375.0 170.0 L370.8 165.0 L364.2 163.3 L367.5 159.2 L373.3 156.7 L378.3 160.8 L382.5 167.5 L385.0 166.7 L381.7 158.3 L385.0 156.7 L390.0 156.7 L395.0 155.8 L398.3 160.0 L403.3 166.7 L406.7 170.8 L410.0 172.5 L414.2 168.3 L418.3 165.0 L422.5 167.5 L426.7 173.3 L431.7 180.0 L436.7 181.7 L440.0 180.8 L446.7 185.0 L453.3 186.7 L460.0 185.0 L465.0 187.5 L470.0 189.2 L475.0 187.5 L480.0 190.8 L482.5 196.7 L488.3 195.8 L496.7 197.5 L503.3 195.0 L509.2 194.2 L513.3 198.3 L518.3 201.7 L525.0 205.8 L531.7 206.7 L534.2 201.7 L538.3 198.3 L545.0 198.3 L550.0 196.7 L551.7 192.5 L556.7 190.8 L562.5 187.5 L565.8 184.2 L566.7 187.5 L561.7 191.7 L557.5 195.0 L558.3 198.3 L555.0 201.7 L555.8 205.0 L560.8 203.3 L566.7 200.0 L570.8 200.0 L568.3 203.3 L571.7 206.7 L570.0 210.8 L572.5 214.2 L580.0 214.2 L585.0 213.3 M91.0 286.5 L88.3 293.3 L85.8 302.5 L84.5 306.0 M306.7 225.0 L311.7 225.0 M295.8 157.5 L300.0 160.0 L305.8 165.8 L311.7 167.5 L318.3 165.8 L321.7 163.3 L326.7 165.0 L331.7 161.7 L335.0 162.5 L336.7 167.5 L335.8 161.7 L339.2 158.3 L345.0 160.0 L350.0 164.2 L352.5 168.3 L351.7 172.5 L346.7 176.7 L340.0 180.8 L333.3 185.0 L328.3 189.2 L325.0 191.7 L320.0 188.3 L313.3 185.0 L308.3 184.2 L303.3 180.8 L300.0 175.8 L297.5 170.0 L295.8 163.3 L295.8 157.5Z M295.8 163.3 L290.8 165.0 L287.5 168.3 L285.8 173.3 L286.7 179.2 L281.7 180.0 L278.3 184.2 L280.8 187.5 L286.7 185.8 L293.3 184.2 L301.7 185.0 L308.3 184.5 M584.7 243.8 L580.6 247.2 L577.8 249.3 L575.0 246.5 L569.4 247.2 L565.3 250.7 L565.3 254.9 L566.7 257.6 L563.2 259.7 L561.8 263.9 L563.2 268.1 L566.7 270.8 L571.5 270.8 L570.8 274.3 L568.8 278.5 L566.0 283.3 L564.6 289.5 L558.3 293.3 L553.5 298.9 L548.6 305.1 L547.2 310.7 L540.3 314.2 L541.0 319.7 L544.4 325.3 L552.8 328.8 L561.1 333.6 L568.1 338.5 L575.0 341.3 L581.9 344.7 L583.3 351.7 L584.5 356.0 M84.6 64.8 L87.5 62.7 L90.8 61.0 L100.0 59.5 L105.0 58.3 L108.3 56.0 L111.7 52.7 L115.8 51.4 L123.3 51.0 L130.0 49.3 L133.3 46.8 L137.5 42.7 L140.0 40.6 M400.2 156.7a2.6 5.6 0 1 0 5.2 0a2.6 5.6 0 1 0 -5.2 0Z M575.8 273.9a3.6 3.0 0 1 0 7.2 0a3.6 3.0 0 1 0 -7.2 0Z M578.4 178.3a3.6 2.4 0 1 0 7.2 0a3.6 2.4 0 1 0 -7.2 0Z M579.1 200.8a3.4 3.2 0 1 0 6.8 0a3.4 3.2 0 1 0 -6.8 0Z" fill="none" stroke="#000" stroke-width="1.15" stroke-linejoin="round" shape-rendering="crispEdges"/>
<rect x="83" y="41" width="7" height="1" fill="#000"/>
</g>
<path d="M131.5 40.5V480.5M180.5 40.5V480.5M229.5 40.5V480.5M277.5 40.5V480.5M326.5 40.5V480.5M375.5 40.5V480.5M423.5 40.5V480.5M472.5 40.5V480.5M521.5 40.5V480.5M570.5 40.5V480.5M84.5 459.5H584.5M84.5 415.5H584.5M84.5 371.5H584.5M84.5 327.5H584.5M84.5 283.5H584.5M84.5 239.5H584.5M84.5 195.5H584.5M84.5 151.5H584.5M84.5 107.5H584.5M84.5 62.5H584.5" stroke="#000" stroke-opacity="0.15" stroke-width="1" fill="none"/>
<g clip-path="url(#ax)">
<circle cx="521.2" cy="458" r="43.8" fill="#fcf4da" stroke="#b8b4a4" stroke-width="0.6"/>
<path d="M545.3 439.2L543.3 460.0M548.3 440.0L547.8 462.5M554.2 440.0L555.0 464.2M557.2 439.2L559.3 465.8M551.0 440.0L551.0 461.7M545.0 444.2L557.7 444.2M544.3 453.3L558.3 453.3M545.3 444.2L558.0 453.3M557.3 444.2L544.3 453.3M544.3 453.3L555.0 463.3M558.3 453.3L547.8 461.7" stroke="#333" stroke-width="0.6" fill="none"/>
<ellipse cx="551.3" cy="431.2" rx="8.6" ry="8.9" fill="#000"/>
<rect x="546.7" y="437.5" width="9.5" height="3.2" fill="#000"/>
<polygon points="470.0,479.5 470.0,463.3 498.3,457.5 498.3,452.5 500.8,450.0 520.8,448.7 523.3,454.7 535.0,455.0 537.0,458.0 543.3,459.3 569.2,470.0 570.0,479.5" fill="#000"/>
<g transform="rotate(-38 495.5 443.7)"><path d="M485.9 442.5A9.6 2.6 0 0 1 505.1 442.5A9.6 9.5 0 0 1 485.9 442.5Z" fill="#000"/></g>
<path d="M497.5 445.8L502.5 455.0" stroke="#000" stroke-width="3.5"/>
<path d="M491.3 437.5L496.7 443.7M491.3 437.5L491.7 445.0" stroke="#555" stroke-width="0.4" fill="none"/>
<g transform="rotate(-6 515.5 438.8)"><path d="M505.5 438.8A10 2.8 0 0 1 525.5 438.8A10 11.5 0 0 1 505.5 438.8Z" fill="#000"/></g>
<path d="M514.5 434.2L515.0 438.3" stroke="#000" stroke-width="0.8"/>
<path d="M515.0 446.7L515.0 453.3" stroke="#000" stroke-width="6"/>
<text x="489.5" y="477.7" font-size="11.6" font-weight="bold" text-anchor="middle" fill="#fff">C</text>
<text x="502.7" y="477.7" font-size="11.6" font-weight="bold" text-anchor="middle" fill="#fff">I</text>
<text x="517.0" y="477.7" font-size="11.6" font-weight="bold" text-anchor="middle" fill="#fff">M</text>
<text x="532.0" y="477.7" font-size="11.6" font-weight="bold" text-anchor="middle" fill="#fff">S</text>
<text x="547.8" y="477.7" font-size="11.6" font-weight="bold" text-anchor="middle" fill="#fff">S</text>
</g>
<path d="M131.5 480.5v-5M131.5 40.5v5M180.5 480.5v-5M180.5 40.5v5M229.5 480.5v-5M229.5 40.5v5M277.5 480.5v-5M277.5 40.5v5M326.5 480.5v-5M326.5 40.5v5M375.5 480.5v-5M375.5 40.5v5M423.5 480.5v-5M423.5 40.5v5M472.5 480.5v-5M472.5 40.5v5M521.5 480.5v-5M521.5 40.5v5M570.5 480.5v-5M570.5 40.5v5M84.5 459.5h5M584.5 459.5h-5M84.5 415.5h5M584.5 415.5h-5M84.5 371.5h5M584.5 371.5h-5M84.5 327.5h5M584.5 327.5h-5M84.5 283.5h5M584.5 283.5h-5M84.5 239.5h5M584.5 239.5h-5M84.5 195.5h5M584.5 195.5h-5M84.5 151.5h5M584.5 151.5h-5M84.5 107.5h5M584.5 107.5h-5M84.5 62.5h5M584.5 62.5h-5" stroke="#262626" stroke-width="1" fill="none"/>
<rect x="84.5" y="40.5" width="500.0" height="440.0" fill="none" stroke="#262626" stroke-width="1"/>
<text x="129.9" y="503.7" font-size="15.8" text-anchor="middle" fill="#262626">127</text>
<text x="178.9" y="503.7" font-size="15.8" text-anchor="middle" fill="#262626">128</text>
<text x="227.9" y="503.7" font-size="15.8" text-anchor="middle" fill="#262626">129</text>
<text x="275.9" y="503.7" font-size="15.8" text-anchor="middle" fill="#262626">130</text>
<text x="324.9" y="503.7" font-size="15.8" text-anchor="middle" fill="#262626">131</text>
<text x="373.9" y="503.7" font-size="15.8" text-anchor="middle" fill="#262626">132</text>
<text x="421.9" y="503.7" font-size="15.8" text-anchor="middle" fill="#262626">133</text>
<text x="470.9" y="503.7" font-size="15.8" text-anchor="middle" fill="#262626">134</text>
<text x="519.9" y="503.7" font-size="15.8" text-anchor="middle" fill="#262626">135</text>
<text x="568.9" y="503.7" font-size="15.8" text-anchor="middle" fill="#262626">136</text>
<text x="75.6" y="465.1" font-size="15.8" text-anchor="end" fill="#262626">-18</text>
<text x="75.6" y="421.0" font-size="15.8" text-anchor="end" fill="#262626">-17</text>
<text x="75.6" y="376.9" font-size="15.8" text-anchor="end" fill="#262626">-16</text>
<text x="75.6" y="332.8" font-size="15.8" text-anchor="end" fill="#262626">-15</text>
<text x="75.6" y="288.7" font-size="15.8" text-anchor="end" fill="#262626">-14</text>
<text x="75.6" y="244.6" font-size="15.8" text-anchor="end" fill="#262626">-13</text>
<text x="75.6" y="200.5" font-size="15.8" text-anchor="end" fill="#262626">-12</text>
<text x="75.6" y="156.4" font-size="15.8" text-anchor="end" fill="#262626">-11</text>
<text x="75.6" y="112.3" font-size="15.8" text-anchor="end" fill="#262626">-10</text>
<text x="75.6" y="68.2" font-size="15.8" text-anchor="end" fill="#262626">-9</text>
<text id="xl" x="296" y="527.3" font-size="18.5" textLength="79" lengthAdjust="spacingAndGlyphs" fill="#262626">longitude</text>
<text id="yl" transform="translate(41.8 291.8) rotate(-90)" font-size="18.5" textLength="63.5" lengthAdjust="spacingAndGlyphs" fill="#262626">latitude</text>
<text id="ti" x="205.3" y="31" font-size="17" font-weight="bold" textLength="260" lengthAdjust="spacingAndGlyphs" fill="#000">Tiffany: 27-Aug-2022 23:15:00</text>
<text id="vm" x="94.3" y="67" font-size="15.6" font-weight="bold" textLength="103.5" lengthAdjust="spacingAndGlyphs" fill="#000">Vmax: 35 kts</text>
<text id="aw" x="485" y="67" font-size="15.6" font-weight="bold" textLength="90" lengthAdjust="spacingAndGlyphs" fill="#000">17:15 away</text>
<rect x="597.5" y="41.5" width="26" height="438" fill="url(#cb)" stroke="#262626" stroke-width="1"/>
<text x="629.6" y="487.3" font-size="15.8" textLength="25.4" lengthAdjust="spacingAndGlyphs" fill="#262626">160</text>
<text x="629.6" y="414.1" font-size="15.8" textLength="25.4" lengthAdjust="spacingAndGlyphs" fill="#262626">180</text>
<text x="629.6" y="341.0" font-size="15.8" textLength="25.4" lengthAdjust="spacingAndGlyphs" fill="#262626">200</text>
<text x="629.6" y="267.8" font-size="15.8" textLength="25.4" lengthAdjust="spacingAndGlyphs" fill="#262626">220</text>
<text x="629.6" y="194.6" font-size="15.8" textLength="25.4" lengthAdjust="spacingAndGlyphs" fill="#262626">240</text>
<text x="629.6" y="121.5" font-size="15.8" textLength="25.4" lengthAdjust="spacingAndGlyphs" fill="#262626">260</text>
<text x="629.6" y="48.3" font-size="15.8" textLength="25.4" lengthAdjust="spacingAndGlyphs" fill="#262626">280</text>
<path d="M623.5 407.5h-3M623.5 334.5h-3M623.5 261.5h-3M623.5 187.5h-3M623.5 114.5h-3" stroke="#262626" stroke-width="1" fill="none"/>
<text id="cl" transform="translate(674.2 385) rotate(-90)" font-size="13" textLength="247" lengthAdjust="spacingAndGlyphs" fill="#262626">Brightness Temp - Horizontal Polarization</text>
</svg></body></html>
